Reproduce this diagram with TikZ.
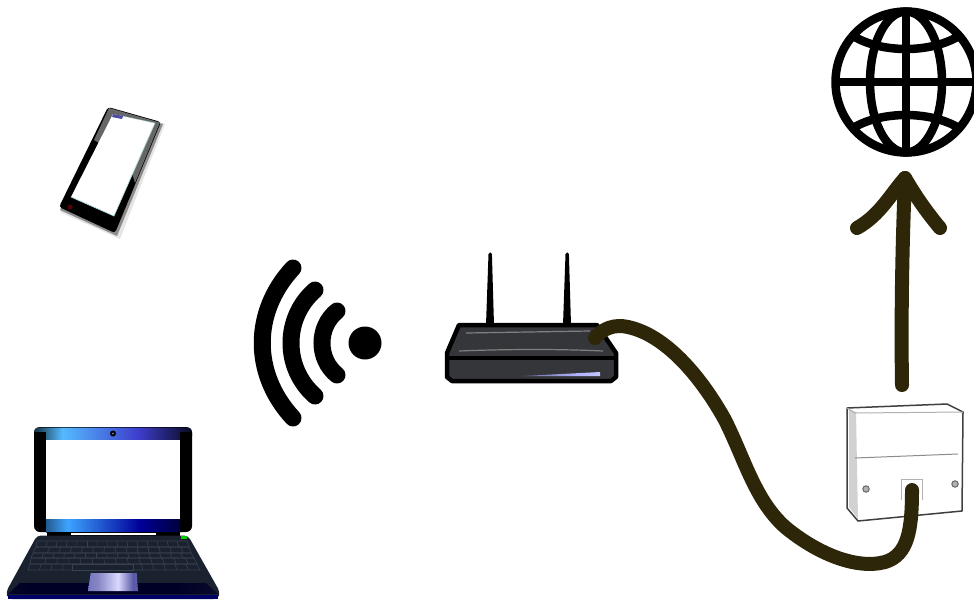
\documentclass[tikz,border=0pt]{standalone}
\usetikzlibrary{calc}
\definecolor{cable}{HTML}{2E2608}
\definecolor{routerbody}{HTML}{34363A}
\definecolor{lapbase}{HTML}{1A2230}
\definecolor{keyline}{HTML}{39404E}
\pgfdeclarehorizontalshading{lidtop}{100bp}{color(0bp)=(black);color(22bp)=(black);color(34bp)=(white!55!blue!60!cyan);color(58bp)=(blue!70!white!80!black);color(78bp)=(black);color(100bp)=(black)}
\pgfdeclarehorizontalshading{lidbot}{100bp}{color(0bp)=(black);color(15bp)=(black);color(33bp)=(white!40!blue!60!cyan);color(60bp)=(blue!60!black);color(85bp)=(black);color(100bp)=(black)}
\pgfdeclarehorizontalshading{padshade}{100bp}{color(0bp)=(blue!40!gray);color(35bp)=(blue!35!gray!70!white);color(55bp)=(white!85!blue);color(70bp)=(blue!30!gray);color(100bp)=(blue!40!gray!80!white)}
\pgfdeclarehorizontalshading{ledshade}{100bp}{color(0bp)=(white!70!blue!30!black);color(60bp)=(white!70!blue);color(92bp)=(white!85!blue);color(100bp)=(routerbody)}
\pgfdeclarehorizontalshading{basebar}{100bp}{color(0bp)=(lapbase);color(30bp)=(black!85!blue);color(65bp)=(black!85!blue);color(100bp)=(lapbase)}
\tikzset{
  x=1pt,y=-1pt,
  cablewire/.style={draw=cable,line width=14pt,line cap=round,line join=round},
  wave/.style={draw=black,line width=17pt,line cap=round},
  globeline/.style={draw=black,line width=8.5pt},
  routerline/.style={draw=black,line width=4.5pt,line join=round},
  keyrow/.style={draw=keyline,line width=.6pt},
  plateline/.style={draw=black!75,line width=1.5pt,line join=round},
  screenface/.style={fill=white}
}
\begin{document}
\begin{tikzpicture}
\useasboundingbox (0,0) rectangle (974,600);
\fill[white] (0,0) rectangle (974,600);

% named end points of the connectors
\coordinate (routerport) at (595,338);
\coordinate (socket) at (912,490);
\coordinate (platetop) at (902,385);
\coordinate (globefoot) at (905,178);

% ---------- phone ----------
\fill[black,opacity=.10] (112,109) -- (165,124) -- (120,239) -- (60,212) -- cycle;
\fill[black!45] (110,109) -- (163,124) -- (117,236) -- (60,210) -- cycle;
\fill[black,rounded corners=3pt] (108,107) -- (161,122) -- (115,233) -- (59,207) -- cycle;
\fill[black!60] (109,108) -- (160,122.5) -- (135,183) -- (128,160) -- (94,140) -- cycle;
\fill[screenface] (113,114) -- (155,123) -- (114,216) -- (71,197) -- cycle;
\draw[teal!35,line width=.7pt] (155,123) -- (114,216) -- (71,197);
\draw[teal!50,line width=.7pt,densely dotted] (123,116) -- (155,123);
\fill[blue!50!black!70] (113,114) -- (123,116) -- (122,119) -- (112,117) -- cycle;
\fill[red!35!black] (70,207) circle (2.5pt);

% ---------- laptop ----------
\fill[black,rounded corners=6pt] (34,427) rectangle (192,532);
\shade[shading=lidtop,rounded corners=4pt] (34,427.5) rectangle (192,440);
\shade[shading=lidbot] (46,519) rectangle (180,532);
\fill[black] (34,432) rectangle (46,525);
\fill[black] (180,432) rectangle (192,525);
\fill[screenface] (46,440) rectangle (180,519);
\fill[black] (113,433.5) circle (3pt);
\fill[white!60!blue] (113,433.5) circle (.9pt);
\fill[black] (47,532) rectangle (180,536);
\fill[white] (71,533) rectangle (156,535);
\fill[lapbase,rounded corners=4pt] (37,535.5) -- (188,535.5) -- (220,592) -- (218,599) -- (8,599) -- (6,592) -- cycle;
\shade[shading=basebar] (20,583) -- (206,583) -- (218,594) -- (8,594) -- cycle;
\fill[blue!40!black] (8,595) rectangle (218,599);
% keyboard rows
\foreach \ya/\xa/\xb/\yb/\xc/\xd/\n in {
  541/37/187/547/36/189/14,
  547/36/189/553/33/191/13,
  553/33/191/558/31/194/14,
  558/31/194/564/30/197/13,
  564/30/197/570/28/200/14}{
  \draw[keyrow] (\xa,\ya) -- (\xb,\ya) -- (\xd,\yb) -- (\xc,\yb) -- cycle;
  \foreach \k in {1,...,\n}{
    \pgfmathsetmacro{\ta}{\xa+(\xb-\xa)*\k/(\n+1)+mod(\n,2)*3}
    \pgfmathsetmacro{\tb}{\xc+(\xd-\xc)*\k/(\n+1)+mod(\n,2)*3}
    \draw[keyrow] (\ta,\ya) -- (\tb,\yb);
  }
}
\fill[lapbase] (72,565) rectangle (133,570);
\draw[keyrow] (72,564.5) rectangle (133,570);
\shade[shading=padshade] (90.7,573) -- (136.7,573) -- (138,591) -- (88,591) -- cycle;
\fill[green!80!black] (181,536) rectangle (187,539);

% ---------- wifi ----------
\fill[black] (365,343) circle (16.5pt);
\draw[wave] (337,311) .. controls (317,327) and (317,359) .. (337,375);
\draw[wave] (315,290) .. controls (283,318) and (283,368) .. (315,396);
\draw[wave] (293,268) .. controls (252,312) and (252,374) .. (293,418);

% ---------- router ----------
\fill[black] (486,325) -- (488.5,254) arc[start angle=180,end angle=0,radius=1.7pt] -- (494,325) -- cycle;
\fill[black] (563,325) -- (565.5,254) arc[start angle=180,end angle=0,radius=1.7pt] -- (571,325) -- cycle;
\filldraw[routerline,fill=routerbody] (459,325) -- (597,325) -- (616,353) -- (616,377) -- (611,381) -- (452,381) -- (447,377) -- (447,353) -- cycle;
\draw[routerline,line width=4pt] (447,358) -- (616,358);
\draw[gray,line width=1.2pt] (466,333) -- (590,331);
\draw[gray,line width=1.2pt] (459,351) .. controls (510,349) and (560,349) .. (603,351);
\shade[shading=ledshade] (523,376) -- (600,372) -- (600,376) -- cycle;

% ---------- wall plate ----------
\fill[white] (847,408) -- (947,404) -- (963,412) -- (962,511) -- (858,521) -- (847,508) -- cycle;
\fill[black!18] (849,409) -- (856,412) -- (858,519) -- (849,507) -- cycle;
\draw[plateline] (847,408) -- (947,404) -- (963,412) -- (962,511) -- (858,521) -- (847,508) -- cycle;
\draw[black!30,line width=1pt] (847,408) -- (855,413) -- (963,412);
\draw[black!45,line width=1pt] (855,458) -- (958,454);
\filldraw[draw=black!60,fill=black!30,line width=1pt] (866,489) circle (3.2pt);
\filldraw[draw=black!60,fill=black!30,line width=1pt] (955,484) circle (3.2pt);
\draw[black!30,line width=1pt] (901,500) -- (901,479) -- (922,479) -- (922,500);

% ---------- globe ----------
\draw[globeline] (906,82) circle (70.5pt);
\draw[globeline] (906,82) ellipse (36pt and 70.5pt);
\draw[globeline] (906,11) -- (906,153);
\draw[globeline] (836,82) -- (977,82);
\begin{scope}
\clip (906,82) circle (71pt);
\draw[globeline] (846,31) .. controls (875,55) and (937,55) .. (966,31);
\draw[globeline] (846,133) .. controls (875,109) and (937,109) .. (966,133);
\end{scope}

% ---------- connectors ----------
\draw[cablewire] (routerport) .. controls (603,328) and (615,324) .. (628,327)
  .. controls (665,335) and (700,375) .. (725,420)
  .. controls (745,460) and (755,500) .. (785,527)
  .. controls (815,552) and (855,570) .. (885,562)
  .. controls (908,555) and (912,530) .. (socket);
\draw[cablewire] (platetop) .. controls (901,320) and (902,250) .. (globefoot);
\draw[cablewire] (857,228) .. controls (880,215) and (890,195) .. (globefoot)
  .. controls (915,195) and (925,210) .. (940,228);
\end{tikzpicture}
\end{document}
